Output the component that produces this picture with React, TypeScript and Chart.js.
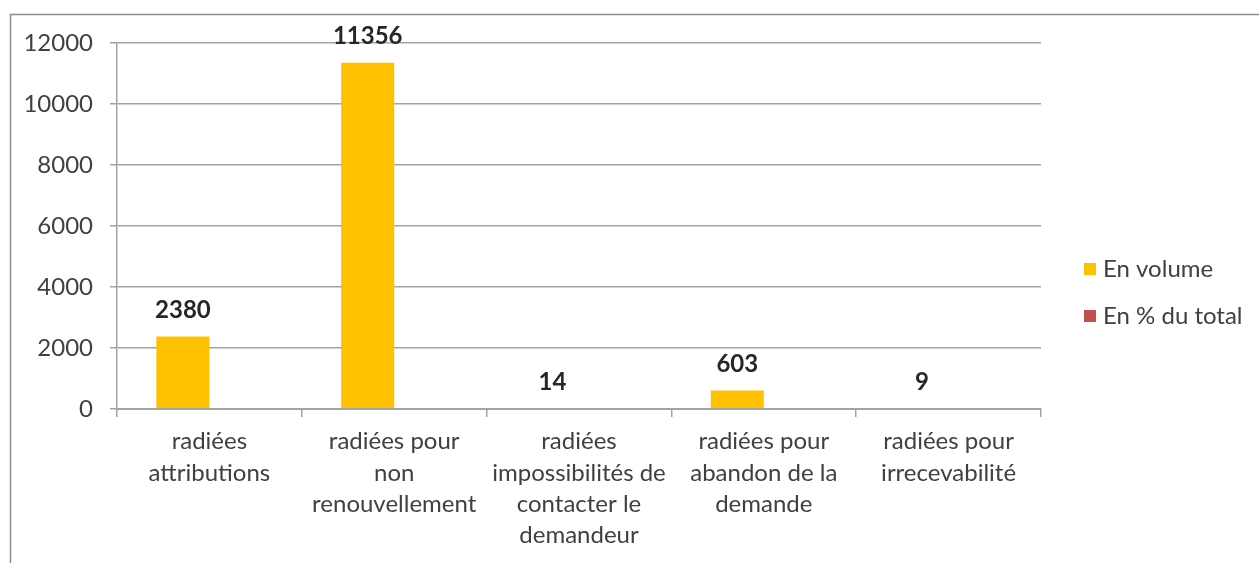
import React, { useEffect, useRef } from "react";
import { Chart, registerables } from "chart.js";

Chart.register(...registerables);

const categories: string[][] = [
  ["radiées", "attributions"],
  ["radiées pour", "non", "renouvellement"],
  ["radiées", "impossibilités de", "contacter le", "demandeur"],
  ["radiées pour", "abandon de la", "demande"],
  ["radiées pour", "irrecevabilité"],
];
const volumeValues = [2380, 11356, 14, 603, 9];
const percentValues = [0.1657, 0.7907, 0.001, 0.042, 0.0006];
const seriesNames = ["En volume", "En % du total"];
const seriesColors = ["#FFC000", "#C0504D"];
const yTicks = [0, 2000, 4000, 6000, 8000, 10000, 12000];

const FONT = "Lato, 'Open Sans', sans-serif";
const LINE = "#a3a3a3";

const framePlugin = {
  id: "frame",
  beforeDraw(chart: any) {
    const ctx = chart.ctx;
    ctx.save();
    ctx.strokeStyle = "#8c8c8c";
    ctx.lineWidth = 1.5;
    ctx.beginPath();
    ctx.moveTo(10.5, 563);
    ctx.lineTo(10.5, 14.5);
    ctx.lineTo(1259, 14.5);
    ctx.stroke();
    ctx.restore();
  },
};

const labelPlugin = {
  id: "valueLabels",
  afterDatasetsDraw(chart: any) {
    const ctx = chart.ctx;
    const meta = chart.getDatasetMeta(0);
    ctx.save();
    ctx.font = "bold 24px " + FONT;
    ctx.fillStyle = "#262626";
    ctx.textAlign = "center";
    ctx.textBaseline = "middle";
    meta.data.forEach((bar: any, i: number) => {
      ctx.fillText(String(volumeValues[i]), bar.x, bar.y - 26);
    });
    ctx.restore();
  },
};

const legendPlugin = {
  id: "customLegend",
  afterDraw(chart: any) {
    const ctx = chart.ctx;
    ctx.save();
    ctx.font = "24px " + FONT;
    ctx.textBaseline = "middle";
    ctx.textAlign = "left";
    chart.data.datasets.forEach((ds: any, i: number) => {
      const cy = 269 + i * 47;
      ctx.fillStyle = ds.backgroundColor;
      ctx.fillRect(1084, cy - 6, 12, 12);
      ctx.fillStyle = "#404040";
      ctx.fillText(ds.label, 1103, cy);
    });
    ctx.restore();
  },
};

export default function App() {
  const ref = useRef<HTMLCanvasElement | null>(null);
  useEffect(() => {
    document.body.style.margin = "0";
    const chart = new Chart(ref.current as HTMLCanvasElement, {
      type: "bar",
      data: {
        labels: categories as any,
        datasets: [
          {
            label: seriesNames[0],
            data: volumeValues,
            backgroundColor: seriesColors[0],
            categoryPercentage: 0.574,
            barPercentage: 1,
            inflateAmount: 0,
          },
          {
            label: seriesNames[1],
            data: percentValues,
            backgroundColor: seriesColors[1],
            categoryPercentage: 0.574,
            barPercentage: 1,
            inflateAmount: 0,
          },
        ],
      },
      options: {
        animation: false,
        responsive: false,
        layout: { padding: { left: 10, top: 43, right: 218, bottom: 0 } },
        plugins: {
          legend: { display: false },
          tooltip: { enabled: false },
        },
        scales: {
          x: {
            afterFit(scale: any) {
              scale.height = 154;
            },
            grid: {
              offset: true,
              drawOnChartArea: false,
              drawTicks: true,
              tickLength: 8,
              color: LINE,
              lineWidth: 1.5,
            },
            border: { display: true, color: LINE, width: 2, z: 1 },
            ticks: {
              autoSkip: false,
              maxRotation: 0,
              minRotation: 0,
              padding: 9,
              color: "#404040",
              font: { family: FONT, size: 24, lineHeight: 1.3 },
            },
          },
          y: {
            min: 0,
            max: 12000,
            afterFit(scale: any) {
              scale.width = 107;
            },
            afterBuildTicks(scale: any) {
              scale.ticks = yTicks.map((v) => ({ value: v }));
            },
            grid: {
              color: LINE,
              lineWidth: 1.5,
              tickLength: 7,
              drawTicks: true,
            },
            border: { display: true, color: LINE, width: 1.5 },
            ticks: {
              padding: 17,
              color: "#404040",
              font: { family: FONT, size: 24 },
              callback: (v: any) => String(v),
            },
          },
        },
      },
      plugins: [framePlugin, labelPlugin, legendPlugin],
    });
    return () => chart.destroy();
  }, []);
  return (
    <div style={{ position: "absolute", left: 0, top: 0, width: 1259, height: 563 }}>
      <canvas ref={ref} width={1259} height={563} />
    </div>
  );
}
